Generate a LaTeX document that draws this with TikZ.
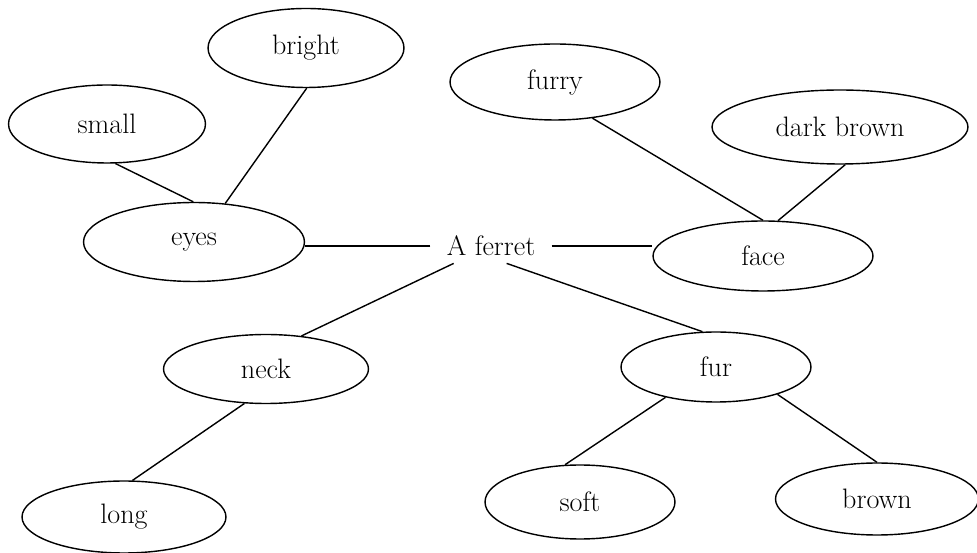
\documentclass[tikz,border=0pt]{standalone}
\usetikzlibrary{shapes.geometric}
\begin{document}
\begin{tikzpicture}[x=0.02cm,y=-0.02cm,
	word/.style={draw,ellipse,line width=0.8pt,inner sep=0pt,font=\fontsize{16}{19}\selectfont},
	link/.style={line width=0.8pt}]
	\useasboundingbox (0,0) rectangle (977,553);
	
	\node[inner xsep=0.32cm,inner ysep=0.14cm,font=\fontsize{16}{19}\selectfont](ferret) at (491,246){A ferret};
	
	\node[word,minimum width=3.92cm,minimum height=1.58cm](bright) at (306,48){bright};
	\node[word,minimum width=3.94cm,minimum height=1.56cm](small) at (107,124){small};
	\node[word,minimum width=4.42cm,minimum height=1.58cm](eyes) at (194,242){eyes};
	\node[word,minimum width=4.2cm,minimum height=1.52cm](furry) at (555,82){furry};
	\node[word,minimum width=5.12cm,minimum height=1.48cm](darkbrown) at (840,127){dark brown};
	\node[word,minimum width=4.4cm,minimum height=1.4cm](face) at (763,256){face};
	\node[word,minimum width=4.1cm,minimum height=1.38cm](neck) at (266,369){neck};
	\node[word,minimum width=3.8cm,minimum height=1.4cm](fur) at (716,367){fur};
	\node[word,minimum width=4.08cm,minimum height=1.44cm](long) at (124,517){long};
	\node[word,minimum width=3.8cm,minimum height=1.48cm](soft) at (580,502){soft};
	\node[word,minimum width=4.06cm,minimum height=1.44cm](brown) at (877,499){brown};
	
	\draw[link](small.282)--(eyes.91);
	\draw[link](bright.271)--(eyes.51);
	\draw[link](ferret.west)--(ferret.west-|eyes.east);
	\draw[link](ferret.east)--(ferret.east-|face.west);
	\draw[link](furry.316)--(face.90);
	\draw[link](darkbrown.278)--(face.67);
	\draw[link](ferret.205)--(neck.43);
	\draw[link](ferret.312)--(fur.111);
	\draw[link](neck.238)--(long.77);
	\draw[link](fur.211)--(soft.112);
	\draw[link](fur.336)--(brown.90);
\end{tikzpicture}
\end{document}
